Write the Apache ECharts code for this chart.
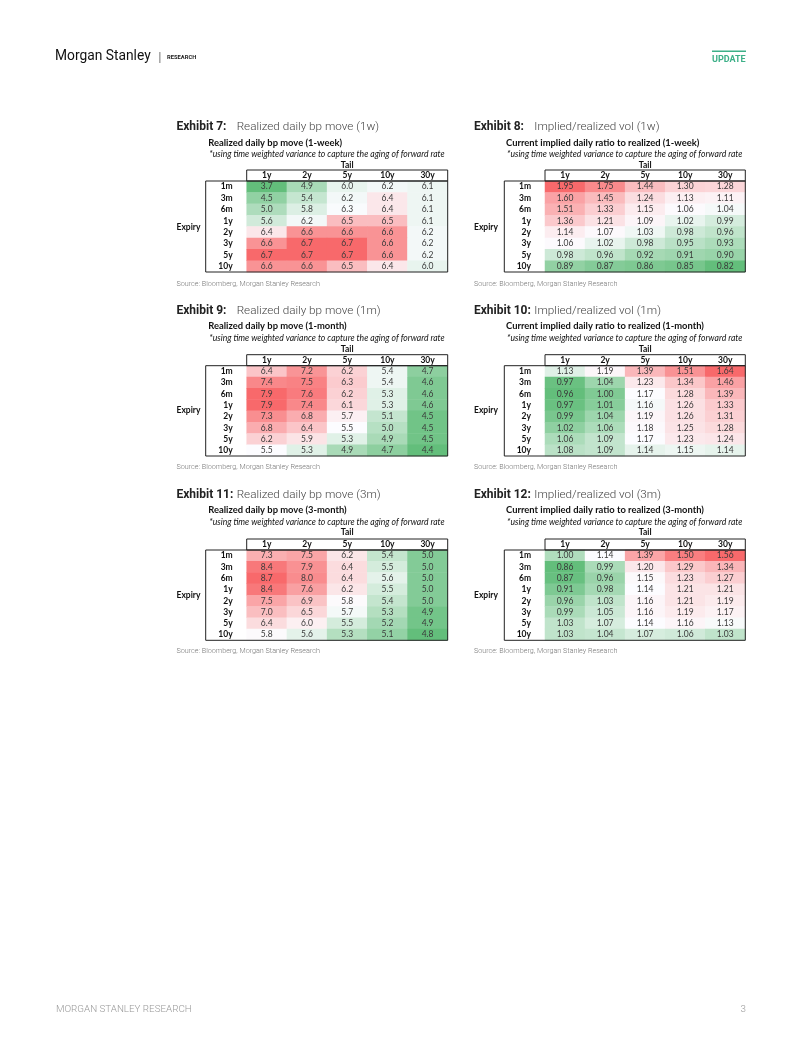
<!DOCTYPE html>
<html><head><meta charset="utf-8">
<script src="https://cdn.jsdelivr.net/npm/echarts@6/dist/echarts.min.js"></script>
<style>html,body{margin:0;padding:0;background:#fff}#c{width:802px;height:1037px}</style>
</head><body><div id="c"></div>
<script>
// ---- data ----
const tails = ['1y', '2y', '5y', '10y', '30y'];
const expiries = ['1m', '3m', '6m', '1y', '2y', '3y', '5y', '10y'];

const realized1w = [
  [3.7, 4.9, 6.0, 6.2, 6.1],
  [4.5, 5.4, 6.2, 6.4, 6.1],
  [5.0, 5.8, 6.3, 6.4, 6.1],
  [5.6, 6.2, 6.5, 6.5, 6.1],
  [6.4, 6.6, 6.6, 6.6, 6.2],
  [6.6, 6.7, 6.7, 6.6, 6.2],
  [6.7, 6.7, 6.7, 6.6, 6.2],
  [6.6, 6.6, 6.5, 6.4, 6.0]
];
const ratio1w = [
  [1.95, 1.75, 1.44, 1.30, 1.28],
  [1.60, 1.45, 1.24, 1.13, 1.11],
  [1.51, 1.33, 1.15, 1.06, 1.04],
  [1.36, 1.21, 1.09, 1.02, 0.99],
  [1.14, 1.07, 1.03, 0.98, 0.96],
  [1.06, 1.02, 0.98, 0.95, 0.93],
  [0.98, 0.96, 0.92, 0.91, 0.90],
  [0.89, 0.87, 0.86, 0.85, 0.82]
];
const realized1m = [
  [6.4, 7.2, 6.2, 5.4, 4.7],
  [7.4, 7.5, 6.3, 5.4, 4.6],
  [7.9, 7.6, 6.2, 5.3, 4.6],
  [7.9, 7.4, 6.1, 5.3, 4.6],
  [7.3, 6.8, 5.7, 5.1, 4.5],
  [6.8, 6.4, 5.5, 5.0, 4.5],
  [6.2, 5.9, 5.3, 4.9, 4.5],
  [5.5, 5.3, 4.9, 4.7, 4.4]
];
const ratio1m = [
  [1.13, 1.19, 1.39, 1.51, 1.64],
  [0.97, 1.04, 1.23, 1.34, 1.46],
  [0.96, 1.00, 1.17, 1.28, 1.39],
  [0.97, 1.01, 1.16, 1.26, 1.33],
  [0.99, 1.04, 1.19, 1.26, 1.31],
  [1.02, 1.06, 1.18, 1.25, 1.28],
  [1.06, 1.09, 1.17, 1.23, 1.24],
  [1.08, 1.09, 1.14, 1.15, 1.14]
];
const realized3m = [
  [7.3, 7.5, 6.2, 5.4, 5.0],
  [8.4, 7.9, 6.4, 5.5, 5.0],
  [8.7, 8.0, 6.4, 5.6, 5.0],
  [8.4, 7.6, 6.2, 5.5, 5.0],
  [7.5, 6.9, 5.8, 5.4, 5.0],
  [7.0, 6.5, 5.7, 5.3, 4.9],
  [6.4, 6.0, 5.5, 5.2, 4.9],
  [5.8, 5.6, 5.3, 5.1, 4.8]
];
const ratio3m = [
  [1.00, 1.14, 1.39, 1.50, 1.56],
  [0.86, 0.99, 1.20, 1.29, 1.34],
  [0.87, 0.96, 1.15, 1.23, 1.27],
  [0.91, 0.98, 1.14, 1.21, 1.21],
  [0.96, 1.03, 1.16, 1.21, 1.19],
  [0.99, 1.05, 1.16, 1.19, 1.17],
  [1.03, 1.07, 1.14, 1.16, 1.13],
  [1.03, 1.04, 1.07, 1.06, 1.03]
];

const tables = [
  {num: 'Exhibit 7:', title: 'Realized daily bp move (1w)', sub: 'Realized daily bp move (1-week)', data: realized1w, dec: 1, c: 0, r: 0},
  {num: 'Exhibit 8:', title: 'Implied/realized vol (1w)', sub: 'Current implied daily ratio to realized (1-week)', data: ratio1w, dec: 2, c: 1, r: 0},
  {num: 'Exhibit 9:', title: 'Realized daily bp move (1m)', sub: 'Realized daily bp move (1-month)', data: realized1m, dec: 1, c: 0, r: 1},
  {num: 'Exhibit 10:', title: 'Implied/realized vol (1m)', sub: 'Current implied daily ratio to realized (1-month)', data: ratio1m, dec: 2, c: 1, r: 1},
  {num: 'Exhibit 11:', title: 'Realized daily bp move (3m)', sub: 'Realized daily bp move (3-month)', data: realized3m, dec: 1, c: 0, r: 2},
  {num: 'Exhibit 12:', title: 'Implied/realized vol (3m)', sub: 'Current implied daily ratio to realized (3-month)', data: ratio3m, dec: 2, c: 1, r: 2}
];
const noteText = '*using time weighted variance to capture the aging of forward rate';
const sourceText = 'Source: Bloomberg, Morgan Stanley Research';

// ---- layout ----
const COLS = [
  {ex: 176.5, title: 236.7, sub: 208.3, lab: 205.7, gl: 246.7, gw: 201},
  {ex: 474, title: 534.3, sub: 506, lab: 504.3, gl: 545, gw: 200.3}
];
const ROWS = [
  {title: 127, sub: 142.7, ital: 154.3, tail: 165.5, top: 181, h: 91, expiry: 227, source: 284},
  {title: 310.7, sub: 326, ital: 337.8, tail: 349, top: 365.7, h: 90.3, expiry: 410.5, source: 467},
  {title: 495, sub: 510, ital: 521.8, tail: 532.7, top: 550, h: 90.3, expiry: 595, source: 651}
];
const HEAD_H = 11;
const FONT = 'Lato, "Open Sans", sans-serif';
const TFONT = 'Roboto, "Liberation Sans", sans-serif';

function colorValue(v, arr) {
  const flat = arr.flat().slice().sort((a, b) => a - b);
  const n = flat.length;
  const min = flat[0], max = flat[n - 1];
  const med = n % 2 ? flat[(n - 1) / 2] : (flat[n / 2 - 1] + flat[n / 2]) / 2;
  if (v <= med) return med === min ? 1 : (v - min) / (med - min);
  return max === med ? 1 : 1 + (v - med) / (max - med);
}

const grid = [], xAxis = [], yAxis = [], series = [], visualMap = [], graphic = [];

function txt(x, y, text, style) {
  graphic.push({type: 'text', x: x, y: y, silent: true,
    style: Object.assign({text: text, fill: '#222', verticalAlign: 'middle', align: 'left'}, style)});
}

tables.forEach((t, i) => {
  const C = COLS[t.c], R = ROWS[t.r];
  grid.push({left: C.gl, top: R.top, width: C.gw, height: R.h, containLabel: false});
  xAxis.push({type: 'category', gridIndex: i, data: tails, position: 'top',
    axisLine: {show: false}, axisTick: {show: false}, splitLine: {show: false},
    axisLabel: {interval: 0, hideOverlap: false, fontFamily: FONT, fontWeight: 'bold', fontSize: 8.5, color: '#111', margin: HEAD_H / 2, verticalAlign: 'middle'}});
  yAxis.push({type: 'category', gridIndex: i, data: expiries, inverse: true,
    axisLine: {show: false}, axisTick: {show: false}, splitLine: {show: false},
    axisLabel: {interval: 0, hideOverlap: false, fontFamily: FONT, fontWeight: 'bold', fontSize: 8.5, color: '#111', margin: 14, align: 'right'}});
  const d = [];
  t.data.forEach((row, ri) => row.forEach((v, ci) => d.push([ci, ri, v, colorValue(v, t.data)])));
  series.push({type: 'heatmap', xAxisIndex: i, yAxisIndex: i, data: d,
    encode: {x: 0, y: 1, value: 2},
    label: {show: true, fontFamily: FONT, fontSize: 8.5, color: '#3a3a3a',
      formatter: p => p.value[2].toFixed(t.dec)},
    itemStyle: {borderWidth: 0}, emphasis: {disabled: true}, progressive: 0});
  visualMap.push({type: 'continuous', show: false, seriesIndex: i, dimension: 3, min: 0, max: 2,
    inRange: {color: ['#63BE7B', '#FCFCFF', '#F8696B']}});

  // titles
  txt(C.ex, R.title, t.num, {fontFamily: TFONT, fontWeight: 'bold', fontSize: 12, fill: '#222'});
  txt(C.title, R.title, t.title, {fontFamily: TFONT, fontWeight: 300, fontSize: 11.7, fill: '#444'});
  txt(C.sub, R.sub, t.sub, {fontFamily: FONT, fontWeight: 'bold', fontSize: 9.4, fill: '#111'});
  txt(C.sub + 1, R.ital, noteText, {fontFamily: FONT, fontStyle: 'italic', fontSize: 8.6, fill: '#111'});
  txt(C.gl + C.gw / 2, R.tail, 'Tail', {fontFamily: FONT, fontWeight: 'bold', fontSize: 8.5, fill: '#111', align: 'center'});
  txt(C.ex, R.expiry, 'Expiry', {fontFamily: FONT, fontWeight: 'bold', fontSize: 8.5, fill: '#111'});
  txt(C.ex, R.source, sourceText, {fontFamily: TFONT, fontWeight: 300, fontSize: 7.2, fill: '#777'});
  // borders
  graphic.push({type: 'rect', silent: true, z: 100,
    shape: {x: C.gl, y: R.top - HEAD_H, width: C.gw, height: HEAD_H},
    style: {fill: 'none', stroke: '#222', lineWidth: 1}});
  graphic.push({type: 'rect', silent: true, z: 100,
    shape: {x: C.lab, y: R.top, width: C.gl + C.gw - C.lab, height: R.h},
    style: {fill: 'none', stroke: '#222', lineWidth: 1}});
});

// page header / footer
txt(55, 57, 'Morgan Stanley', {fontFamily: TFONT, fontSize: 13.8, fill: '#111'});
graphic.push({type: 'rect', silent: true, shape: {x: 159.5, y: 52, width: 0.8, height: 11}, style: {fill: '#555'}});
txt(167, 57.5, 'RESEARCH', {fontFamily: TFONT, fontWeight: 'bold', fontSize: 5.8, fill: '#222'});
graphic.push({type: 'rect', silent: true, shape: {x: 712, y: 50.5, width: 34, height: 1.6}, style: {fill: '#3DB088'}});
txt(712, 59.5, 'UPDATE', {fontFamily: TFONT, fontWeight: 'bold', fontSize: 9, fill: '#3DB088'});
txt(56, 1010, 'MORGAN STANLEY RESEARCH', {fontFamily: TFONT, fontWeight: 300, fontSize: 9.8, fill: '#999'});
txt(746, 1010, '3', {fontFamily: TFONT, fontWeight: 300, fontSize: 9.8, fill: '#999', align: 'right'});

const chart = echarts.init(document.getElementById('c'), null, {renderer: 'canvas'});
chart.setOption({animation: false, grid, xAxis, yAxis, visualMap, series, graphic});
</script></body></html>
